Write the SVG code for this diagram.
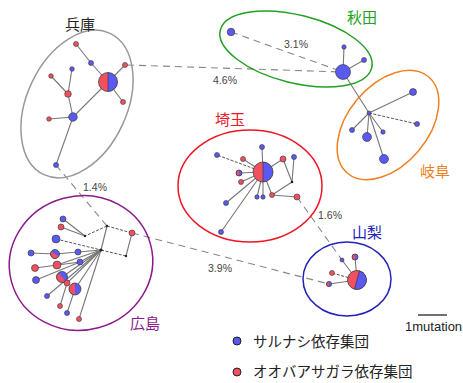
<svg xmlns="http://www.w3.org/2000/svg" width="463" height="383" viewBox="0 0 463 383">
<defs>
<style>
.b{fill:#5a5af0;stroke:#333;stroke-width:0.6}
.r{fill:#f0505f;stroke:#333;stroke-width:0.6}
.k{fill:#222}
.e{stroke:#777;stroke-width:1.1;fill:none}
.d{stroke:#555;stroke-width:1;stroke-dasharray:3 1.5;fill:none}
.D{stroke:#888;stroke-width:1.1;stroke-dasharray:7 5;fill:none}
.ring{fill:none;stroke-width:1.5}
.lbl{font-family:"Noto Sans CJK JP","Noto Sans CJK SC",sans-serif;font-size:15px;text-anchor:middle}
.pct{font-family:"Liberation Sans",Arial,sans-serif;font-size:10.5px;fill:#444;text-anchor:middle}
.hr{fill:#f0505f}
.hb{fill:#5a5af0}
.ho{fill:none;stroke:#333;stroke-width:0.7}
</style>
</defs>
<rect width="463" height="383" fill="#fff"/>

<g id="connectors">
  <line class="D" x1="127" y1="65" x2="343" y2="72"/>
  <line class="D" x1="231" y1="32" x2="343" y2="72"/>
  <line class="D" x1="56" y1="165" x2="107" y2="226"/>
  <line class="D" x1="297" y1="197" x2="342" y2="260"/>
  <line class="D" x1="132" y1="233" x2="329" y2="284"/>
  <line class="e" x1="343" y1="72" x2="369" y2="113"/>
  <polyline class="e" points="76,44 91,63 108,82"/>
  <line class="e" x1="108" y1="82" x2="125" y2="65"/>
  <line class="e" x1="108" y1="82" x2="123" y2="102"/>
  <line class="e" x1="108" y1="82" x2="73" y2="117"/>
  <line class="e" x1="73" y1="117" x2="68" y2="94"/>
  <line class="e" x1="68" y1="94" x2="72" y2="69"/>
  <line class="e" x1="68" y1="94" x2="51" y2="76"/>
  <line class="e" x1="73" y1="117" x2="49" y2="119"/>
  <line class="e" x1="73" y1="117" x2="56" y2="165"/>
  <line class="e" x1="343" y1="72" x2="344" y2="47"/>
  <line class="e" x1="343" y1="72" x2="364" y2="60"/>
  <line class="e" x1="369" y1="113" x2="413" y2="92"/>
  <line class="d" x1="369" y1="113" x2="417" y2="124"/>
  <line class="e" x1="369" y1="113" x2="352" y2="130"/>
  <line class="e" x1="369" y1="113" x2="383" y2="132"/>
  <line class="e" x1="369" y1="113" x2="367" y2="137"/>
  <line class="e" x1="369" y1="113" x2="384" y2="159"/>
  <line class="e" x1="263" y1="172" x2="262" y2="147"/>
  <line class="d" x1="263" y1="172" x2="217" y2="155"/>
  <line class="e" x1="263" y1="172" x2="243" y2="159"/>
  <line class="e" x1="263" y1="172" x2="239" y2="173"/>
  <line class="e" x1="263" y1="172" x2="241" y2="182"/>
  <line class="e" x1="263" y1="172" x2="226" y2="203"/>
  <line class="e" x1="263" y1="172" x2="221" y2="232"/>
  <line class="e" x1="263" y1="172" x2="257" y2="197"/>
  <line class="e" x1="263" y1="172" x2="263" y2="197"/>
  <line class="e" x1="263" y1="172" x2="272" y2="195"/>
  <line class="e" x1="263" y1="172" x2="283" y2="159"/>
  <line class="e" x1="283" y1="159" x2="292" y2="182"/>
  <line class="e" x1="294" y1="157" x2="292" y2="182"/>
  <line class="e" x1="292" y1="182" x2="272" y2="195"/>
  <line class="e" x1="272" y1="195" x2="297" y2="197"/>
  <line class="e" x1="357" y1="280" x2="355" y2="257"/>
  <line class="e" x1="357" y1="280" x2="342" y2="260"/>
  <line class="d" x1="357" y1="280" x2="332" y2="273"/>
  <line class="e" x1="357" y1="280" x2="329" y2="284"/>
  <line class="e" x1="107" y1="226" x2="101" y2="250"/>
  <line class="d" x1="107" y1="226" x2="132" y2="233"/>
  <line class="e" x1="132" y1="233" x2="126" y2="256"/>
  <line class="d" x1="126" y1="256" x2="101" y2="250"/>
  <line class="d" x1="107" y1="226" x2="85" y2="236"/>
  <line class="e" x1="85" y1="236" x2="63" y2="219"/>
  <line class="e" x1="85" y1="236" x2="61" y2="227"/>
  <line class="d" x1="56" y1="239" x2="101" y2="250"/>
  <polyline class="e" points="31,253 55,254 78,252 101,250"/>
  <polyline class="e" points="35,268 80,262 101,250"/>
  <line class="e" x1="36" y1="280" x2="80" y2="262"/>
  <line class="e" x1="57" y1="265" x2="101" y2="250"/>
  <line class="e" x1="62" y1="277" x2="101" y2="250"/>
  <line class="e" x1="47" y1="296" x2="101" y2="250"/>
  <polyline class="e" points="60,306 67,283 101,250"/>
  <polyline class="e" points="67,313 75,289 101,250"/>
  <line class="e" x1="79" y1="319" x2="101" y2="250"/>
</g>

<g id="hyogo">
  <ellipse class="ring" stroke="#999" cx="77" cy="104" rx="78" ry="50" transform="rotate(-65 77 104)"/>
  <text class="lbl" x="80" y="30" fill="#222">兵庫</text>
  <g transform="translate(108,82)"><circle r="9.5" class="hr"/><path class="hb" d="M0,-9.5A9.5,9.5 0 0 1 0,9.5Z"/><circle r="9.5" class="ho"/><line y1="-9.5" y2="9.5" stroke="#333" stroke-width="0.6"/></g>
  <circle class="r" cx="76" cy="44" r="2.5"/>
  <circle class="b" cx="91" cy="63" r="2.5"/>
  <circle class="r" cx="125" cy="65" r="2.5"/>
  <circle class="r" cx="123" cy="102" r="2.5"/>
  <circle class="b" cx="72" cy="69" r="2.3"/>
  <circle class="r" cx="51" cy="76" r="2.3"/>
  <circle class="r" cx="68" cy="94" r="3.3"/>
  <circle class="b" cx="73" cy="117" r="4.3"/>
  <circle class="r" cx="49" cy="119" r="2.3"/>
  <circle class="b" cx="56" cy="165" r="2.5"/>
</g>

<g id="akita">
  <ellipse class="ring" stroke="#22a022" cx="296" cy="49" rx="78" ry="34" transform="rotate(14 296 49)"/>
  <text class="lbl" x="362" y="23" fill="#22a022">秋田</text>
  <circle class="b" cx="231" cy="32" r="3.8"/>
  <circle class="b" cx="343" cy="72" r="7.5"/>
  <circle class="b" cx="344" cy="47" r="2.2"/>
  <circle class="b" cx="364" cy="60" r="2.5"/>
</g>

<g id="gifu">
  <ellipse class="ring" stroke="#f08020" cx="388" cy="125" rx="63" ry="40" transform="rotate(-50 388 125)"/>
  <text class="lbl" x="435" y="177" fill="#f08020">岐阜</text>
  <circle class="b" cx="369" cy="113" r="2"/>
  <circle class="b" cx="413" cy="92" r="3.5"/>
  <circle class="b" cx="417" cy="124" r="2.5"/>
  <circle class="b" cx="352" cy="130" r="2.5"/>
  <circle class="b" cx="383" cy="132" r="2.2"/>
  <circle class="b" cx="367" cy="137" r="4.5"/>
  <circle class="b" cx="384" cy="159" r="4.5"/>
</g>

<g id="saitama">
  <ellipse class="ring" stroke="#f01525" cx="250" cy="186" rx="72" ry="56"/>
  <text class="lbl" x="230" y="125" fill="#f01525">埼玉</text>
  <g transform="translate(263,172)"><circle r="10" class="hr"/><path class="hb" d="M0,-10A10,10 0 0 1 0,10Z"/><circle r="10" class="ho"/><line y1="-10" y2="10" stroke="#333" stroke-width="0.6"/></g>
  <circle class="b" cx="262" cy="147" r="2.5"/>
  <circle class="b" cx="217" cy="155" r="2.5"/>
  <circle class="r" cx="243" cy="159" r="2.5"/>
  <g transform="translate(239,173)"><circle r="3" class="hb"/><path class="hr" d="M0,-3A3,3 0 0 0 0,3Z"/><circle r="3" class="ho"/></g>
  <circle class="r" cx="241" cy="182" r="2.5"/>
  <circle class="b" cx="226" cy="203" r="2.5"/>
  <circle class="b" cx="221" cy="232" r="2.5"/>
  <circle class="b" cx="257" cy="197" r="2.2"/>
  <circle class="b" cx="263" cy="197" r="2.2"/>
  <circle class="r" cx="272" cy="195" r="2.5"/>
  <circle class="r" cx="283" cy="159" r="3"/>
  <circle class="b" cx="294" cy="157" r="2.5"/>
  <circle class="k" cx="292" cy="182" r="1.3"/>
  <circle class="r" cx="297" cy="197" r="3"/>
</g>

<g id="yamanashi">
  <ellipse class="ring" stroke="#2222bb" cx="347" cy="279" rx="44" ry="37"/>
  <text class="lbl" x="367" y="238" fill="#2222bb">山梨</text>
  <g transform="translate(357,280) rotate(15)"><circle r="9.5" class="hr"/><path class="hb" d="M0,-9.5A9.5,9.5 0 0 1 0,9.5Z"/><circle r="9.5" class="ho"/><line y1="-9.5" y2="9.5" stroke="#333" stroke-width="0.6"/></g>
  <circle class="b" cx="342" cy="260" r="2"/>
  <g transform="translate(355,257)"><circle r="3" class="hb"/><path class="hr" d="M0,-3A3,3 0 0 0 0,3Z"/><circle r="3" class="ho"/></g>
  <circle class="r" cx="332" cy="273" r="2.5"/>
  <g transform="translate(329,284)"><circle r="2.6" class="hb"/><path class="hr" d="M0,-2.6A2.6,2.6 0 0 0 0,2.6Z"/><circle r="2.6" class="ho"/></g>
</g>

<g id="hiroshima">
  <ellipse class="ring" stroke="#8a1a8a" cx="81" cy="263" rx="72" ry="67" transform="rotate(-15 81 263)"/>
  <text class="lbl" x="145" y="329" fill="#8a1a8a">広島</text>
  <circle class="k" cx="101" cy="250" r="1.6"/>
  <circle class="k" cx="107" cy="226" r="1.2"/>
  <circle class="r" cx="132" cy="233" r="3"/>
  <circle class="k" cx="126" cy="256" r="1.2"/>
  <circle class="k" cx="85" cy="236" r="1.2"/>
  <circle class="b" cx="63" cy="219" r="3"/>
  <circle class="r" cx="61" cy="227" r="3"/>
  <circle class="b" cx="56" cy="239" r="4"/>
  <circle class="b" cx="31" cy="253" r="3"/>
  <g transform="translate(55,254) rotate(-60)"><circle r="4.5" class="hb"/><path class="hr" d="M0,-4.5A4.5,4.5 0 0 0 0,4.5Z"/><circle r="4.5" class="ho"/></g>
  <circle class="b" cx="78" cy="252" r="3"/>
  <circle class="r" cx="35" cy="268" r="3.5"/>
  <circle class="b" cx="80" cy="262" r="3"/>
  <circle class="r" cx="57" cy="265" r="4"/>
  <circle class="b" cx="36" cy="280" r="3.5"/>
  <g transform="translate(62,277) rotate(-40)"><circle r="5.5" class="hb"/><path class="hr" d="M0,-5.5A5.5,5.5 0 0 0 0,5.5Z"/><circle r="5.5" class="ho"/></g>
  <circle class="r" cx="67" cy="283" r="3"/>
  <g transform="translate(75,289)"><circle r="6" class="hb"/><path class="hr" d="M0,-6A6,6 0 0 0 0,6Z"/><circle r="6" class="ho"/></g>
  <circle class="b" cx="47" cy="296" r="2.5"/>
  <circle class="r" cx="60" cy="306" r="2.5"/>
  <circle class="b" cx="67" cy="313" r="2.5"/>
  <circle class="r" cx="79" cy="319" r="2.5"/>
</g>

<g id="percent-labels">
  <text class="pct" x="225" y="84">4.6%</text>
  <text class="pct" x="296" y="48">3.1%</text>
  <text class="pct" x="95" y="191">1.4%</text>
  <text class="pct" x="330" y="219">1.6%</text>
  <text class="pct" x="220" y="272">3.9%</text>
</g>

<g id="scale">
  <line x1="418" y1="315" x2="447" y2="315" stroke="#222" stroke-width="1.3"/>
  <text x="405" y="331" font-family="'Liberation Sans',Arial,sans-serif" font-size="13" fill="#222">1mutation</text>
</g>

<g id="legend">
  <circle cx="237" cy="341" r="4" fill="#5a5af0" stroke="#222" stroke-width="1"/>
  <text x="253" y="346.5" font-family="'Noto Sans CJK JP',sans-serif" font-size="14.5" fill="#222">サルナシ依存集団</text>
  <circle cx="237" cy="372" r="4" fill="#f0505f" stroke="#222" stroke-width="1"/>
  <text x="253" y="377" font-family="'Noto Sans CJK JP',sans-serif" font-size="14.5" fill="#222">オオバアサガラ依存集団</text>
</g>
</svg>
